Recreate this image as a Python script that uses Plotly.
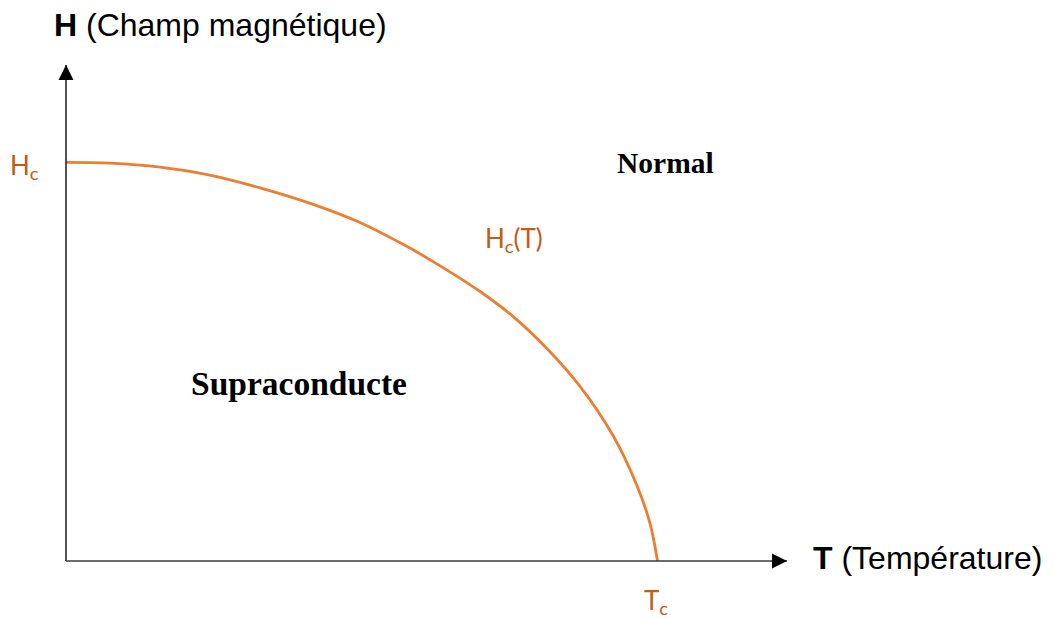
import plotly.graph_objects as go

# Hc(T) curve (T/Tc, H/Hc)
t_values = [0.0, 0.074, 0.159, 0.243, 0.328, 0.413, 0.497, 0.565, 0.615, 0.700, 0.756,
            0.813, 0.869, 0.925, 0.965, 0.987, 1.0]
h_values = [1.0, 0.998, 0.988, 0.968, 0.936, 0.897, 0.849, 0.798, 0.756, 0.676, 0.613,
            0.533, 0.438, 0.314, 0.190, 0.096, 0.0]

PAGE_W, PAGE_H = 1053, 619
OFF = 8                    # default body margin of the html page
W, H = PAGE_W - OFF, PAGE_H - OFF
X0, Y0 = 66, 561           # page pixel of origin
SX, SY = 591.5, 398.7      # pixels per unit

def px(x, y):
    """page pixel -> data coordinates"""
    return (x - X0) / SX, (Y0 - y) / SY

xr = [px(OFF, 0)[0], px(PAGE_W, 0)[0]]
yr = [px(0, PAGE_H)[1], px(0, OFF)[1]]

ORANGE = "#ED7D31"
ORANGE_TXT = "#C55A11"
AXIS = "#1a1a1a"

fig = go.Figure()
fig.add_trace(go.Scatter(x=t_values, y=h_values, mode="lines",
                         line=dict(color=ORANGE, width=2.8, shape="spline", smoothing=1.0),
                         hoverinfo="skip", showlegend=False))

y_tip = px(0, 65)[1]
x_tip = px(787, 0)[0]
shapes = [
    dict(type="line", xref="x", yref="y", x0=0, y0=0, x1=0, y1=y_tip, line=dict(color=AXIS, width=1.5)),
    dict(type="line", xref="x", yref="y", x0=0, y0=0, x1=x_tip, y1=0, line=dict(color="#3a3a3a", width=1.5)),
    dict(type="path", xref="x", yref="y", xsizemode="pixel", ysizemode="pixel",
         xanchor=0, yanchor=y_tip, path="M0,0 L-7.5,-15 L7.5,-15 Z",
         fillcolor="black", line=dict(width=0)),
    dict(type="path", xref="x", yref="y", xsizemode="pixel", ysizemode="pixel",
         xanchor=x_tip, yanchor=0, path="M0,0 L-15,-7.5 L-15,7.5 Z",
         fillcolor="black", line=dict(width=0)),
]

def ann(text, x, y, size, color="black", family="Liberation Sans"):
    tx, ty = px(x, y)
    return dict(text=text, x=tx, y=ty, xref="x", yref="y", showarrow=False,
                xanchor="center", yanchor="middle",
                font=dict(size=size, color=color, family=family))

annotations = [
    ann("<b>H</b> (Champ magnétique)", 220, 25, 32),
    ann("<b>T</b> (Température)", 927, 558, 32),
    ann("<b>Normal</b>", 665, 163, 29.5, family="Liberation Serif"),
    ann("<b>Supraconducte</b>", 299, 383, 33.5, family="Liberation Serif"),
    ann("H<sub>c</sub>", 24, 166, 26, ORANGE_TXT, "Lato"),
    ann("H<sub>c</sub>(T)", 514, 239, 26, ORANGE_TXT, "Lato"),
    ann("T<sub>c</sub>", 656, 601, 26, ORANGE_TXT, "Lato"),
]

fig.update_layout(
    width=W, height=H, margin=dict(l=0, r=0, t=0, b=0),
    paper_bgcolor="white", plot_bgcolor="white",
    xaxis=dict(range=xr, visible=False, fixedrange=True),
    yaxis=dict(range=yr, visible=False, fixedrange=True),
    shapes=shapes, annotations=annotations, showlegend=False,
)
fig.write_html("out.html")
